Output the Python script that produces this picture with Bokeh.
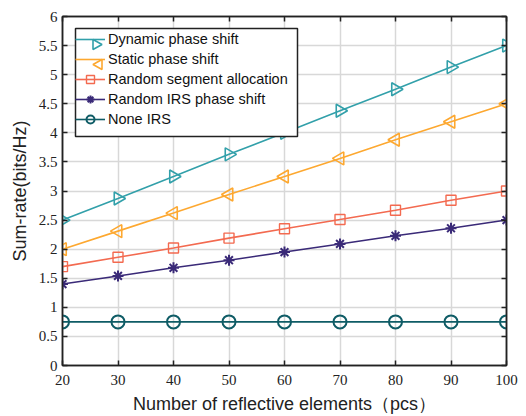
import numpy as np
from bokeh.plotting import figure
from bokeh.models import (LinearAxis, Range1d, FixedTicker, Legend, LegendItem,
                          ColumnDataSource, PolyAnnotation, BoxAnnotation)
from bokeh.embed import file_html
from bokeh.resources import INLINE

x = [20, 30, 40, 50, 60, 70, 80, 90, 100]
dynamic = [2.5, 2.87, 3.25, 3.63, 4.0, 4.38, 4.75, 5.13, 5.5]
static = [2.0, 2.31, 2.62, 2.94, 3.25, 3.56, 3.88, 4.19, 4.5]
rand_seg = [1.7, 1.86, 2.02, 2.19, 2.35, 2.51, 2.67, 2.84, 3.0]
rand_irs = [1.4, 1.54, 1.68, 1.81, 1.95, 2.09, 2.23, 2.36, 2.5]
none_irs = [0.75] * 9

x_ticks = [20, 30, 40, 50, 60, 70, 80, 90, 100]
y_ticks = [0, 0.5, 1, 1.5, 2, 2.5, 3, 3.5, 4, 4.5, 5, 5.5, 6]
y_tick_labels = ["0", "0.5", "1", "1.5", "2", "2.5", "3", "3.5", "4", "4.5", "5", "5.5", "6"]

W, H = 526, 416
BORDER_L, BORDER_R, BORDER_T, BORDER_B = 62, 20, 16, 50
FRAME_H = H - BORDER_T - BORDER_B

p = figure(width=W, height=H, output_backend="svg", toolbar_location=None,
           x_range=Range1d(20, 100), y_range=Range1d(0, 6),
           min_border_left=BORDER_L, min_border_right=BORDER_R, min_border_top=BORDER_T,
           min_border_bottom=BORDER_B)
p.background_fill_color = "white"
p.border_fill_color = "white"
p.outline_line_color = "#222222"
p.outline_line_width = 1.5

TICK_FONT = "Liberation Serif"
LABEL_FONT = "Liberation Sans"

for ax in [p.xaxis[0], p.yaxis[0]]:
    ax.major_label_text_font = TICK_FONT
    ax.major_label_text_font_size = "15px"
    ax.major_label_text_color = "#222222"
    ax.axis_line_color = "#222222"
    ax.axis_line_width = 1.5
    ax.major_tick_in = 5
    ax.major_tick_out = 0
    ax.minor_tick_line_color = None
    ax.major_tick_line_color = "#222222"
    ax.major_tick_line_width = 1.5
    ax.axis_label_text_font = LABEL_FONT
    ax.axis_label_text_font_style = "normal"
    ax.axis_label_text_font_size = "18px"
    ax.axis_label_text_color = "#222222"

p.xaxis[0].ticker = FixedTicker(ticks=x_ticks)
p.yaxis[0].ticker = FixedTicker(ticks=y_ticks)
p.yaxis[0].major_label_overrides = {t: l for t, l in zip(y_ticks, y_tick_labels)}
p.xaxis[0].axis_label = "Number of reflective elements（pcs）"
p.yaxis[0].axis_label = "Sum-rate(bits/Hz)"
p.xaxis[0].major_label_standoff = 9
p.xaxis[0].axis_label_standoff = 6
p.yaxis[0].axis_label_standoff = 6

for loc, ticks in [("right", y_ticks), ("above", x_ticks)]:
    ax = LinearAxis(ticker=FixedTicker(ticks=ticks))
    ax.major_label_overrides = {t: "" for t in ticks}
    ax.major_label_standoff = 0
    ax.axis_line_color = "#222222"
    ax.axis_line_width = 1.5
    ax.major_tick_in = 5
    ax.major_tick_out = 0
    ax.minor_tick_line_color = None
    ax.major_tick_line_color = "#222222"
    ax.major_tick_line_width = 1.5
    p.add_layout(ax, loc)

p.xgrid.ticker = FixedTicker(ticks=x_ticks)
p.ygrid.ticker = FixedTicker(ticks=y_ticks)
for g in [p.xgrid[0], p.ygrid[0]]:
    g.grid_line_color = "#d8d8d8"
    g.grid_line_width = 1.5

c_dyn = "#32A0AA"
c_sta = "#FDA830"
c_seg = "#F36A50"
c_irs = "#3A2A78"
c_non = "#0F5C66"

# label, values, colour, marker, angle, size, marker line width, legend arrow dir
series = [
    ("Dynamic phase shift", dynamic, c_dyn, "triangle", -np.pi / 2, 13, 1.6, 1),
    ("Static phase shift", static, c_sta, "triangle", np.pi / 2, 13, 1.6, -1),
    ("Random segment allocation", rand_seg, c_seg, "square", 0.0, 10, 1.4, None),
    ("Random IRS phase shift", rand_irs, c_irs, "asterisk", 0.0, 11, 2.0, None),
    ("None IRS", none_irs, c_non, "circle", 0.0, 13, 2.0, None),
]

LEG_MARGIN, LEG_PAD, ROW_H, GLYPH_W = 13, 6, 20, 30
BOX_W, BOX_H = 222, 108

# white legend box with black border, above the data lines but below legend entries
p.add_layout(BoxAnnotation(left=LEG_MARGIN, right=LEG_MARGIN + BOX_W,
                           top=FRAME_H - LEG_MARGIN, bottom=FRAME_H - LEG_MARGIN - BOX_H,
                           left_units="screen", right_units="screen",
                           top_units="screen", bottom_units="screen",
                           fill_color="white", fill_alpha=1.0,
                           line_color="#222222", line_width=1.5, line_alpha=1.0,
                           level="guide"))

items = []
arrows = []
for i, (label, ys, col, mk, ang, sz, lw, direction) in enumerate(series):
    src = ColumnDataSource(dict(x=x, y=ys, angle=[ang] * len(x), size=[sz] * len(x)))
    ln = p.line("x", "y", source=src, line_color=col, line_width=1.6)
    sc = p.scatter("x", "y", source=src, marker=mk, angle="angle", size="size",
                   line_color=col, fill_color=None, line_width=lw)
    if direction is None:
        items.append(LegendItem(label=label, renderers=[ln, sc], index=0))
    else:
        # legend triangle drawn pointing the same way as the plot markers
        items.append(LegendItem(label=label, renderers=[ln]))
        cx = LEG_MARGIN + LEG_PAD + GLYPH_W / 2 + 1
        cy = FRAME_H - (LEG_MARGIN + LEG_PAD + ROW_H * i + ROW_H / 2)
        h, w = 5, 4.5
        xs = [cx - direction * w, cx - direction * w, cx + direction * w]
        ys_ = [cy - h, cy + h, cy]
        arrows.append(PolyAnnotation(xs=xs, ys=ys_, xs_units="screen", ys_units="screen",
                                     line_color=col, line_width=1.6, line_alpha=1.0,
                                     fill_color="white", fill_alpha=1.0, level="overlay"))

legend = Legend(items=items, location="top_left")
legend.label_text_font = LABEL_FONT
legend.label_text_font_size = "14.5px"
legend.label_text_color = "#111111"
legend.border_line_color = None
legend.background_fill_color = None
legend.background_fill_alpha = 0
legend.glyph_width = GLYPH_W
legend.glyph_height = ROW_H
legend.label_height = ROW_H
legend.spacing = 0
legend.padding = LEG_PAD
legend.margin = LEG_MARGIN
legend.label_standoff = 3
p.add_layout(legend)
for a in arrows:
    p.add_layout(a)

open("out.html", "w").write(file_html(p, INLINE))
